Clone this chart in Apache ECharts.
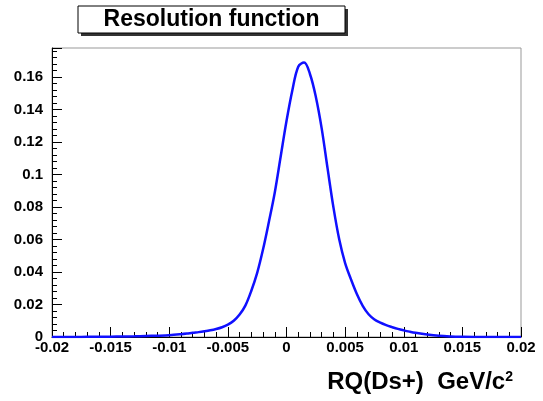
<!DOCTYPE html>
<html><head><meta charset="utf-8">
<script src="https://cdn.jsdelivr.net/npm/echarts@6/dist/echarts.min.js"></script>
<style>html,body{margin:0;padding:0;background:#fff}#c{width:543px;height:401px}</style>
</head><body><div id="c"></div>
<script>
const xValues = [-0.020,-0.019,-0.018,-0.017,-0.016,-0.015,-0.014,-0.013,-0.012,-0.011,-0.010,-0.009,-0.0085,-0.008,-0.0075,-0.007,-0.0065,-0.006,-0.0055,-0.005,-0.0045,-0.004,-0.0035,-0.003,-0.0025,-0.002,-0.0015,-0.001,-0.0005,0.000,0.0005,0.001,0.0015,0.002,0.0025,0.003,0.0035,0.004,0.0045,0.005,0.0055,0.006,0.0065,0.007,0.0075,0.008,0.0085,0.009,0.0095,0.010,0.0105,0.011,0.012,0.013,0.014,0.015,0.016,0.017,0.018,0.019,0.020];
const yValues = [0.0000,0.0000,0.0000,0.0001,0.0001,0.0002,0.0003,0.0004,0.0006,0.0008,0.0011,0.0017,0.0021,0.0026,0.0030,0.0035,0.0041,0.0049,0.0060,0.0076,0.0100,0.0138,0.0195,0.0285,0.0395,0.0540,0.0710,0.0890,0.1110,0.1330,0.1520,0.1665,0.1690,0.1620,0.1480,0.1285,0.1040,0.0800,0.0600,0.0455,0.0355,0.0265,0.0192,0.0140,0.0108,0.0088,0.0073,0.0061,0.0050,0.0041,0.0033,0.0026,0.0015,0.0007,0.0003,0.0001,0.0000,0.0000,0.0000,0.0000,0.0000];
const titleText = 'Resolution function';
const xAxisTitle = 'RQ(Ds+)  GeV/c';
const xAxisTitleSup = '2';

const fmt = v => String(parseFloat(v.toFixed(4)));
const chart = echarts.init(document.getElementById('c'), null, {renderer:'canvas'});
const lblFont = {fontFamily:'Liberation Sans', fontWeight:'bold', fontSize:15, color:'#000'};
chart.setOption({
  animation:false,
  grid:{left:52, right:22, top:48, bottom:64, show:true, borderColor:'#999', borderWidth:1},
  xAxis:{type:'value', min:-0.02, max:0.02, interval:0.005,
    axisLine:{lineStyle:{color:'#000', width:1}, onZero:false},
    axisTick:{inside:true, length:10, lineStyle:{color:'#000'}},
    minorTick:{show:true, splitNumber:5, length:5, lineStyle:{color:'#000'}},
    splitLine:{show:false},
    axisLabel:Object.assign({margin:3, formatter:fmt}, lblFont)},
  yAxis:{type:'value', min:0, max:0.178, interval:0.02,
    axisLine:{lineStyle:{color:'#000', width:1}, onZero:false},
    axisTick:{inside:true, length:10, lineStyle:{color:'#000'}},
    minorTick:{show:true, splitNumber:5, length:5, lineStyle:{color:'#000'}},
    splitLine:{show:false},
    axisLabel:Object.assign({margin:9, showMaxLabel:false, formatter:fmt}, lblFont)},
  series:[{type:'line', data:xValues.map((x,i)=>[x,yValues[i]]), showSymbol:false, smooth:0.35,
    lineStyle:{color:'#1010ff', width:2.5}}],
  graphic:[
    {type:'rect', shape:{x:81, y:9, width:267, height:27}, style:{fill:'#333'}, z:100},
    {type:'rect', shape:{x:78, y:6, width:267, height:27}, style:{fill:'#fff', stroke:'#000', lineWidth:1}, z:101},
    {type:'text', x:211.5, y:20, z:102, style:{text:titleText, font:'bold 23px "Liberation Sans"', fill:'#000', align:'center', verticalAlign:'middle'}},
    {type:'text', x:513, y:382, z:102, style:{text:'{a|'+xAxisTitle+'}{s|'+xAxisTitleSup+'}', align:'right', verticalAlign:'middle',
      rich:{a:{font:'bold 24px "Liberation Sans"', fill:'#000', color:'#000'}, s:{font:'bold 14px "Liberation Sans"', color:'#000', verticalAlign:'top', padding:[0,0,10,0]}}}}
  ]
});
</script></body></html>
